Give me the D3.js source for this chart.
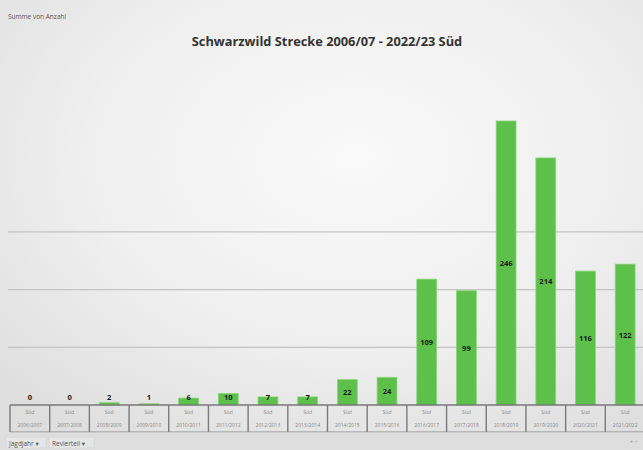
<!DOCTYPE html>
<html>
<head>
<meta charset="utf-8">
<script src="https://cdn.jsdelivr.net/npm/d3@7"></script>
<style>
  html, body { margin: 0; padding: 0; background: #e9e9e9; }
  svg { display: block; font-family: "Open Sans", "DejaVu Sans", sans-serif; }
</style>
</head>
<body>
<svg id="chart" width="643" height="450"></svg>
<script>
// Jagdjahre (outer axis level) and Revierteil (inner axis level)
const seasons = ["2006/2007", "2007/2008", "2008/2009", "2009/2010", "2010/2011", "2011/2012",
                 "2012/2013", "2013/2014", "2014/2015", "2015/2016", "2016/2017", "2017/2018",
                 "2018/2019", "2019/2020", "2020/2021", "2021/2022"];
const district = "Süd";
// Schwarzwild Strecke je Jagdjahr
const strecke = [0, 0, 2, 1, 6, 10, 7, 7, 22, 24, 109, 99, 246, 214, 116, 122];
const gridValues = [50, 100, 150];

const W = 643, H = 450;
const svg = d3.select("#chart");

// chart background: soft light-grey gradient
const defs = svg.append("defs");
const rg = defs.append("radialGradient").attr("id", "bg")
  .attr("cx", "55%").attr("cy", "35%").attr("r", "75%");
rg.append("stop").attr("offset", "0%").attr("stop-color", "#f9f9f9");
rg.append("stop").attr("offset", "55%").attr("stop-color", "#efefef");
rg.append("stop").attr("offset", "100%").attr("stop-color", "#dedede");
svg.append("rect").attr("width", W).attr("height", H).attr("fill", "url(#bg)");

const baseY = 405;
const x = d3.scaleBand().domain(seasons).range([10, 645]).paddingInner(0.5).paddingOuter(0.25);
const y = d3.scaleLinear().domain([0, 246]).range([baseY, 121]);

// horizontal gridlines
svg.append("g").selectAll("line").data(gridValues).join("line")
  .attr("x1", 8).attr("x2", W)
  .attr("y1", d => y(d)).attr("y2", d => y(d))
  .attr("stroke", "#c4c4c4").attr("stroke-width", 1.3);

// title and value field caption
svg.append("text").attr("x", 327).attr("y", 46).attr("text-anchor", "middle")
  .attr("font-size", 12.8).attr("font-weight", "bold").attr("fill", "#333")
  .text("Schwarzwild Strecke 2006/07 - 2022/23 " + district);
svg.append("text").attr("x", 8).attr("y", 19).attr("font-size", 6.5).attr("fill", "#555")
  .text("Summe von Anzahl");

// bars
svg.append("g").selectAll("rect").data(strecke).join("rect")
  .attr("x", (d, i) => x(seasons[i]))
  .attr("width", x.bandwidth())
  .attr("y", d => y(d))
  .attr("height", d => baseY - y(d))
  .attr("fill", "#5dc04a")
  .attr("stroke", "#8bd57a").attr("stroke-width", 0.8);

// value labels, centred in each bar
svg.append("g").selectAll("text").data(strecke).join("text")
  .attr("x", (d, i) => x(seasons[i]) + x.bandwidth() / 2)
  .attr("y", d => Math.min((y(d) + baseY) / 2, baseY - 8) + 3)
  .attr("text-anchor", "middle").attr("font-size", 7.5).attr("font-weight", "bold")
  .attr("fill", "#1a1a1a")
  .text(d => d);

// two-level category axis: Revierteil above, Jagdjahr below
const step = x.step();
const axisTop = baseY, axisBottom = 432;
const ax = svg.append("g");
ax.append("line").attr("x1", 10).attr("x2", W).attr("y1", axisTop).attr("y2", axisTop)
  .attr("stroke", "#777").attr("stroke-width", 1.4);
ax.append("line").attr("x1", 10).attr("x2", W).attr("y1", axisBottom).attr("y2", axisBottom)
  .attr("stroke", "#8a8a8a").attr("stroke-width", 1);
ax.selectAll("line.sep").data(seasons).join("line").attr("class", "sep")
  .attr("x1", d => x(d) + x.bandwidth() / 2 - step / 2)
  .attr("x2", d => x(d) + x.bandwidth() / 2 - step / 2)
  .attr("y1", axisTop).attr("y2", axisBottom)
  .attr("stroke", "#7a7a7a").attr("stroke-width", 1.4);
ax.selectAll("text.inner").data(seasons).join("text").attr("class", "inner")
  .attr("x", d => x(d) + x.bandwidth() / 2).attr("y", 414)
  .attr("text-anchor", "middle").attr("font-size", 5).attr("fill", "#888")
  .text(district);
ax.selectAll("text.outer").data(seasons).join("text").attr("class", "outer")
  .attr("x", d => x(d) + x.bandwidth() / 2).attr("y", 427)
  .attr("text-anchor", "middle").attr("font-size", 5).attr("fill", "#888")
  .text(d => d);

// strip below the axis
svg.append("rect").attr("x", 0).attr("y", axisBottom + 0.5).attr("width", W).attr("height", H - axisBottom)
  .attr("fill", "#dedede");

// pivot field buttons
const buttons = [{ label: "Jagdjahr", x0: 6, w: 40 }, { label: "Revierteil", x0: 49, w: 45 }];
const bg = svg.append("g").selectAll("g").data(buttons).join("g");
bg.append("rect").attr("x", d => d.x0).attr("y", 437).attr("width", d => d.w).attr("height", 11)
  .attr("fill", "#e6e6e6").attr("stroke", "#cfcfcf").attr("stroke-width", 0.5);
bg.append("text").attr("x", d => d.x0 + 3).attr("y", 445.5).attr("font-size", 6.5).attr("fill", "#555")
  .text(d => d.label + " \u25BE");
svg.append("text").attr("x", 634).attr("y", 444).attr("text-anchor", "middle")
  .attr("font-size", 6).attr("fill", "#999").text("+ \u2212");
</script>
</body>
</html>
